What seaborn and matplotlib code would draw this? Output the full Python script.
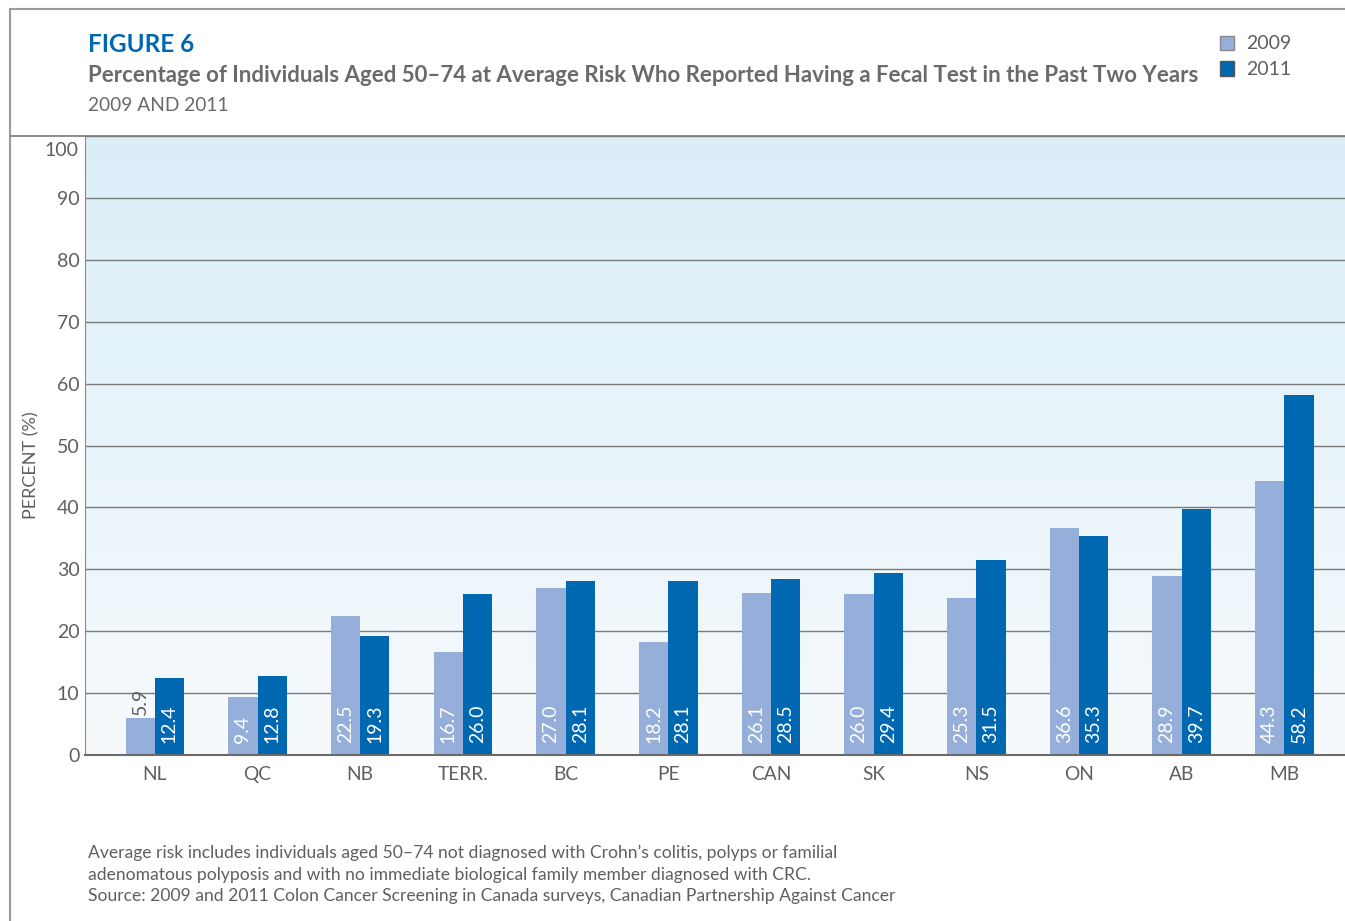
import numpy as np
import pandas as pd
import seaborn as sns
import matplotlib.pyplot as plt
from matplotlib.colors import LinearSegmentedColormap
from matplotlib.lines import Line2D
from matplotlib.patches import Patch

regions = ['NL', 'QC', 'NB', 'TERR.', 'BC', 'PE', 'CAN', 'SK', 'NS', 'ON', 'AB', 'MB']
pct_2009 = [5.9, 9.4, 22.5, 16.7, 27.0, 18.2, 26.1, 26.0, 25.3, 36.6, 28.9, 44.3]
pct_2011 = [12.4, 12.8, 19.3, 26.0, 28.1, 28.1, 28.5, 29.4, 31.5, 35.3, 39.7, 58.2]
years = ['2009', '2011']
y_ticks = [0, 10, 20, 30, 40, 50, 60, 70, 80, 90, 100]
notes = [
    'Average risk includes individuals aged 50\u201374 not diagnosed with Crohn\u2019s colitis, polyps or familial',
    'adenomatous polyposis and with no immediate biological family member diagnosed with CRC.',
    'Source: 2009 and 2011 Colon Cancer Screening in Canada surveys, Canadian Partnership Against Cancer',
]

df = pd.DataFrame({
    'region': regions * 2,
    'year': [years[0]] * len(regions) + [years[1]] * len(regions),
    'pct': pct_2009 + pct_2011,
})

light = '#95afda'
dark = '#0067b1'
grey = '#5f5f5f'

sns.set_style('white')
plt.rcParams['font.family'] = ['Lato', 'DejaVu Sans']

W, H = 1345, 921
fig = plt.figure(figsize=(W / 100, H / 100), dpi=100)
ax = fig.add_axes([85 / W, (H - 755) / H, 1 - 85 / W, (755 - 136) / H])

# background gradient
cmap = LinearSegmentedColormap.from_list('bg', ['#f6fafd', '#dbeef7'])
xl = (-0.68, 11.59)
ax.imshow(np.linspace(0, 1, 256)[:, None], extent=[xl[0], xl[1], 0, 100],
          origin='lower', aspect='auto', cmap=cmap, zorder=0)

for t in y_ticks[1:]:
    ax.axhline(t, color='#7a7a7a', lw=1.0, zorder=1)

sns.barplot(data=df, x='region', y='pct', hue='year', palette=[light, dark],
            width=0.57, gap=0, saturation=1, legend=False, linewidth=0,
            ax=ax, zorder=2)

ax.set_xlim(*xl)
ax.set_ylim(0, 100)
ax.set_yticks(y_ticks)
ax.set_yticklabels([str(t) for t in y_ticks[:-1]] + [''], fontsize=14, color=grey)
ax.text(-0.005, 97.6, str(y_ticks[-1]), transform=ax.get_yaxis_transform(),
        ha='right', va='center', fontsize=14, color=grey)
ax.tick_params(axis='x', labelsize=13.8, labelcolor=grey, length=0, pad=8)
ax.tick_params(axis='y', length=0, pad=4)
ax.set_xlabel('')
ax.set_ylabel('PERCENT (%)', fontsize=13, color=grey)
ax.yaxis.set_label_coords(-(85 - 39) / 1260, 0.5 - 20 / 619)

for s in ['top', 'right']:
    ax.spines[s].set_visible(False)
ax.spines['left'].set_color('#8a8a8a')
ax.spines['bottom'].set_color('#6a6a6a')
ax.spines['bottom'].set_linewidth(1.5)

for cont in ax.containers:
    for bar in cont:
        v = bar.get_height()
        xc = bar.get_x() + bar.get_width() / 2
        if v < 8:
            ax.text(xc, v + 0.6, f'{v:.1f}', rotation=90, ha='center', va='bottom',
                    fontsize=14, color=grey, zorder=3)
        else:
            ax.text(xc, 2.0, f'{v:.1f}', rotation=90, ha='center', va='bottom',
                    fontsize=14, color='white', zorder=3)

# header and frame
fig.text(88 / W, 1 - 45 / H, 'FIGURE 6', fontsize=17.5, fontweight='bold',
         color=dark, va='center')
fig.text(88 / W, 1 - 75 / H,
         'Percentage of Individuals Aged 50\u201374 at Average Risk Who Reported Having a Fecal Test in the Past Two Years',
         fontsize=16, fontweight='bold', color='#6a6a6a', va='center')
fig.text(88 / W, 1 - 105 / H, '2009 AND 2011', fontsize=13.8, color='#6a6a6a', va='center')

fig.add_artist(Line2D([10 / W, 10 / W], [0, 1 - 9 / H], color='#9a9a9a', lw=1.5))
fig.add_artist(Line2D([10 / W, 1], [1 - 9 / H, 1 - 9 / H], color='#9a9a9a', lw=1.5))
fig.add_artist(Line2D([10 / W, 1], [1 - 136 / H, 1 - 136 / H], color='#7a7a7a', lw=1.2))

handles = [Patch(facecolor=light, edgecolor='#888888', label=years[0]),
           Patch(facecolor=dark, edgecolor='#555555', label=years[1])]
fig.legend(handles=handles, loc='upper left', bbox_to_anchor=(1202 / W, 1 - 18 / H),
           frameon=False, fontsize=14, handlelength=0.75, handleheight=0.75,
           handletextpad=0.6, labelspacing=0.45, labelcolor=grey)

for i, line in enumerate(notes):
    fig.text(88 / W, 1 - (853 + 21.5 * i) / H, line, fontsize=12.6, color=grey, va='center')

fig.savefig('out.png', dpi=100)
